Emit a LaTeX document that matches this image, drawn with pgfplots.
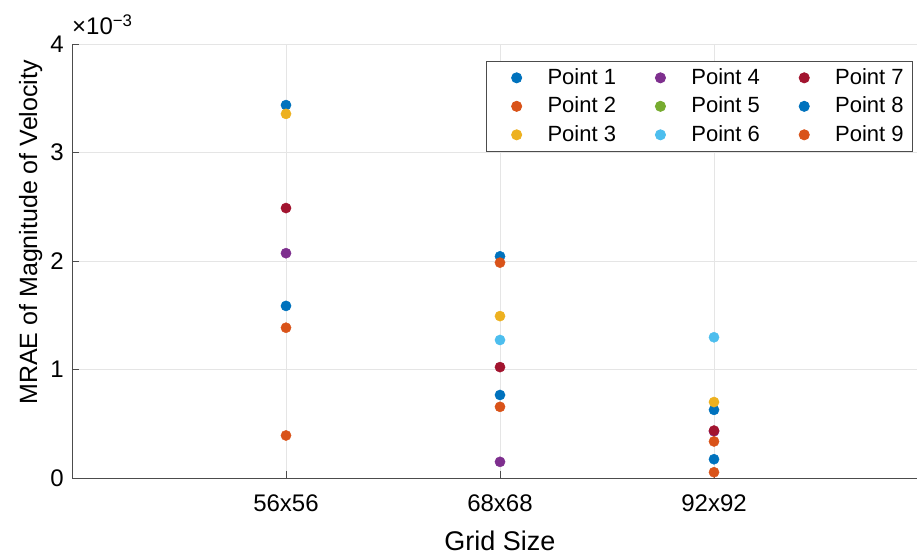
\documentclass[border=0pt]{standalone}
\usepackage{fontspec}
\setmainfont{Liberation Sans}
\usepackage{pgfplots}
\pgfplotsset{compat=1.18}
\definecolor{c1}{rgb}{0,0.447,0.741}
\definecolor{c2}{rgb}{0.850,0.325,0.098}
\definecolor{c3}{rgb}{0.929,0.694,0.125}
\definecolor{c4}{rgb}{0.494,0.184,0.556}
\definecolor{c5}{rgb}{0.466,0.674,0.188}
\definecolor{c6}{rgb}{0.301,0.745,0.933}
\definecolor{c7}{rgb}{0.635,0.078,0.184}
\begin{document}
\begin{tikzpicture}
\begin{axis}[
  at={(72bp,79bp)}, anchor=south west,
  scale only axis, width=845bp, height=434bp,
  xmin=0, xmax=3.9486, ymin=0, ymax=0.004,
  axis lines=left,
  axis line style={-, draw=black!70, line width=0.8bp},
  xtick={1,2,3}, xticklabels={56x56,68x68,92x92},
  ytick={0,0.001,0.002,0.003,0.004},
  scaled y ticks=base 10:3, ytick scale label code/.code={},
  /pgf/number format/assume math mode=true,
  tick align=inside, major tick length=7bp,
  tick style={black!70, line width=0.8bp},
  grid=major, grid style={black!10, line width=0.8bp},
  ticklabel style={font=\fontsize{24bp}{28bp}\selectfont},
  xticklabel style={anchor=base, yshift=-33.7bp},
  yticklabel style={anchor=east, inner xsep=0pt, xshift=-8bp},
  every axis x label/.style={at={(axis description cs:0.5065,0)}, anchor=base, yshift=-72bp, font=\fontsize{27bp}{30bp}\selectfont},
  every axis y label/.style={at={(axis description cs:-0.0414,0.566)}, rotate=90, anchor=base, font=\fontsize{25bp}{28bp}\selectfont},
  xlabel={Grid Size},
  ylabel={MRAE of Magnitude of Velocity},
  clip=false,
  every axis plot/.append style={only marks, mark=*, mark size=5.1bp},
  legend image code/.code={\path (0bp,0bp) (30bp,0bp); \draw[mark repeat=2,mark phase=2] plot coordinates {(12bp,0bp)(21bp,0bp)(30bp,0bp)};},
  legend columns=3, transpose legend, legend cell align=left,
  legend style={at={(axis description cs:0.9953,0.961)}, anchor=north east,
    draw=black!70, line width=0.8bp, fill=white, inner xsep=9bp, inner ysep=7bp,
    font=\fontsize{22bp}{26bp}\selectfont,
    nodes={inner sep=0pt, text height=16bp, text depth=3bp},
    row sep=9.5bp,
    /tikz/every odd column/.style={column sep=21.5bp},
    /tikz/every even column/.style={column sep=23bp}},
]
\addplot[c1] coordinates {(1,0.003437) (2,0.002043) (3,0.000628)};
\addlegendentry{Point 1}
\addplot[c2] coordinates {(1,0.001385) (2,0.000656) (3,0.000053)};
\addlegendentry{Point 2}
\addplot[c3] coordinates {(1,0.003356) (2,0.001492) (3,0.000700)};
\addlegendentry{Point 3}
\addplot[c4] coordinates {(1,0.002072) (2,0.000149) (3,0.000430)};
\addlegendentry{Point 4}
\addlegendimage{only marks, mark=*, mark size=5.1bp, c5}
\addlegendentry{Point 5}
\addplot[c6] coordinates {(2,0.001272) (3,0.001297)};
\addlegendentry{Point 6}
\addplot[c7] coordinates {(1,0.002488) (2,0.001022) (3,0.000437)};
\addlegendentry{Point 7}
\addplot[c1] coordinates {(1,0.001586) (2,0.000765) (3,0.000173)};
\addlegendentry{Point 8}
\addplot[c2] coordinates {(1,0.000392) (2,0.001985) (3,0.000337)};
\addlegendentry{Point 9}
\node[anchor=base west, inner sep=0pt, font=\fontsize{24bp}{28bp}\selectfont] at (rel axis cs:0,1) [yshift=9bp] {×10\textsuperscript{−3}};
\end{axis}
\pgfresetboundingbox
\useasboundingbox (0,0) rectangle (917bp,557bp);
\end{tikzpicture}
\end{document}
